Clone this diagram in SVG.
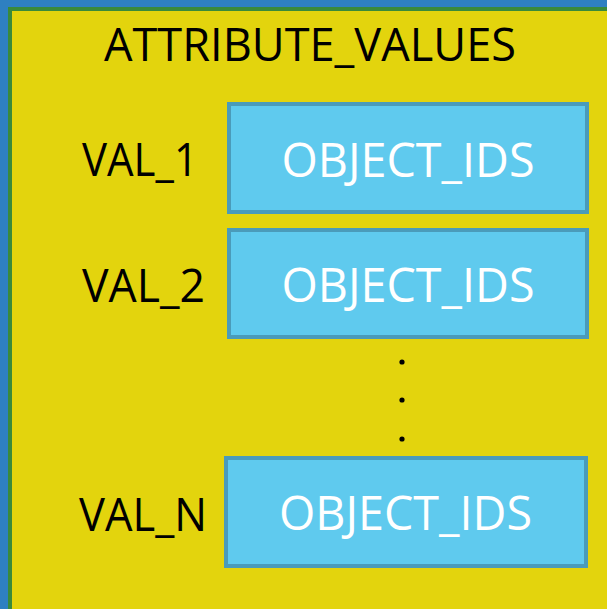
<svg xmlns="http://www.w3.org/2000/svg" width="607" height="609" viewBox="0 0 607 609">
  <style>
    .frame { fill: #E3D40D; }
    .box rect { fill: #5FCAEE; stroke: #4A9BBA; stroke-width: 4; }
    .box text { fill: #FFFFFF; font-family: "Open Sans", "DejaVu Sans", sans-serif; font-size: 47px; text-anchor: middle; }
    .label { fill: #000000; font-family: "Open Sans", "DejaVu Sans", sans-serif; font-size: 46px; }
    .dot { fill: #000000; }
  </style>

  <!-- outer container: blue edge, green rule, yellow body -->
  <rect x="0" y="0" width="607" height="609" fill="#2E80C1"/>
  <rect x="8" y="7" width="599" height="602" fill="#3A8A3A"/>
  <rect class="frame" x="12" y="11" width="595" height="598"/>

  <text id="title" class="label" x="310" y="61" text-anchor="middle" textLength="412" lengthAdjust="spacingAndGlyphs">ATTRIBUTE_VALUES</text>

  <g id="row1">
    <text class="label" x="82" y="176" textLength="116" lengthAdjust="spacingAndGlyphs">VAL_1</text>
    <g class="box">
      <rect x="229" y="104" width="358" height="108"/>
      <text x="408" y="177" textLength="253" lengthAdjust="spacingAndGlyphs">OBJECT_IDS</text>
    </g>
  </g>

  <g id="row2">
    <text class="label" x="82" y="302" textLength="123" lengthAdjust="spacingAndGlyphs">VAL_2</text>
    <g class="box">
      <rect x="229" y="230" width="358" height="107"/>
      <text x="408" y="302" textLength="253" lengthAdjust="spacingAndGlyphs">OBJECT_IDS</text>
    </g>
  </g>

  <g id="ellipsis">
    <circle class="dot" cx="402" cy="362" r="2.6"/>
    <circle class="dot" cx="402" cy="400" r="2.6"/>
    <circle class="dot" cx="402" cy="439" r="2.6"/>
  </g>

  <g id="rowN">
    <text class="label" x="79" y="531" textLength="128" lengthAdjust="spacingAndGlyphs">VAL_N</text>
    <g class="box">
      <rect x="226" y="458" width="360" height="108"/>
      <text x="405.5" y="530" textLength="253" lengthAdjust="spacingAndGlyphs">OBJECT_IDS</text>
    </g>
  </g>

  <g id="connectors"></g>
</svg>
